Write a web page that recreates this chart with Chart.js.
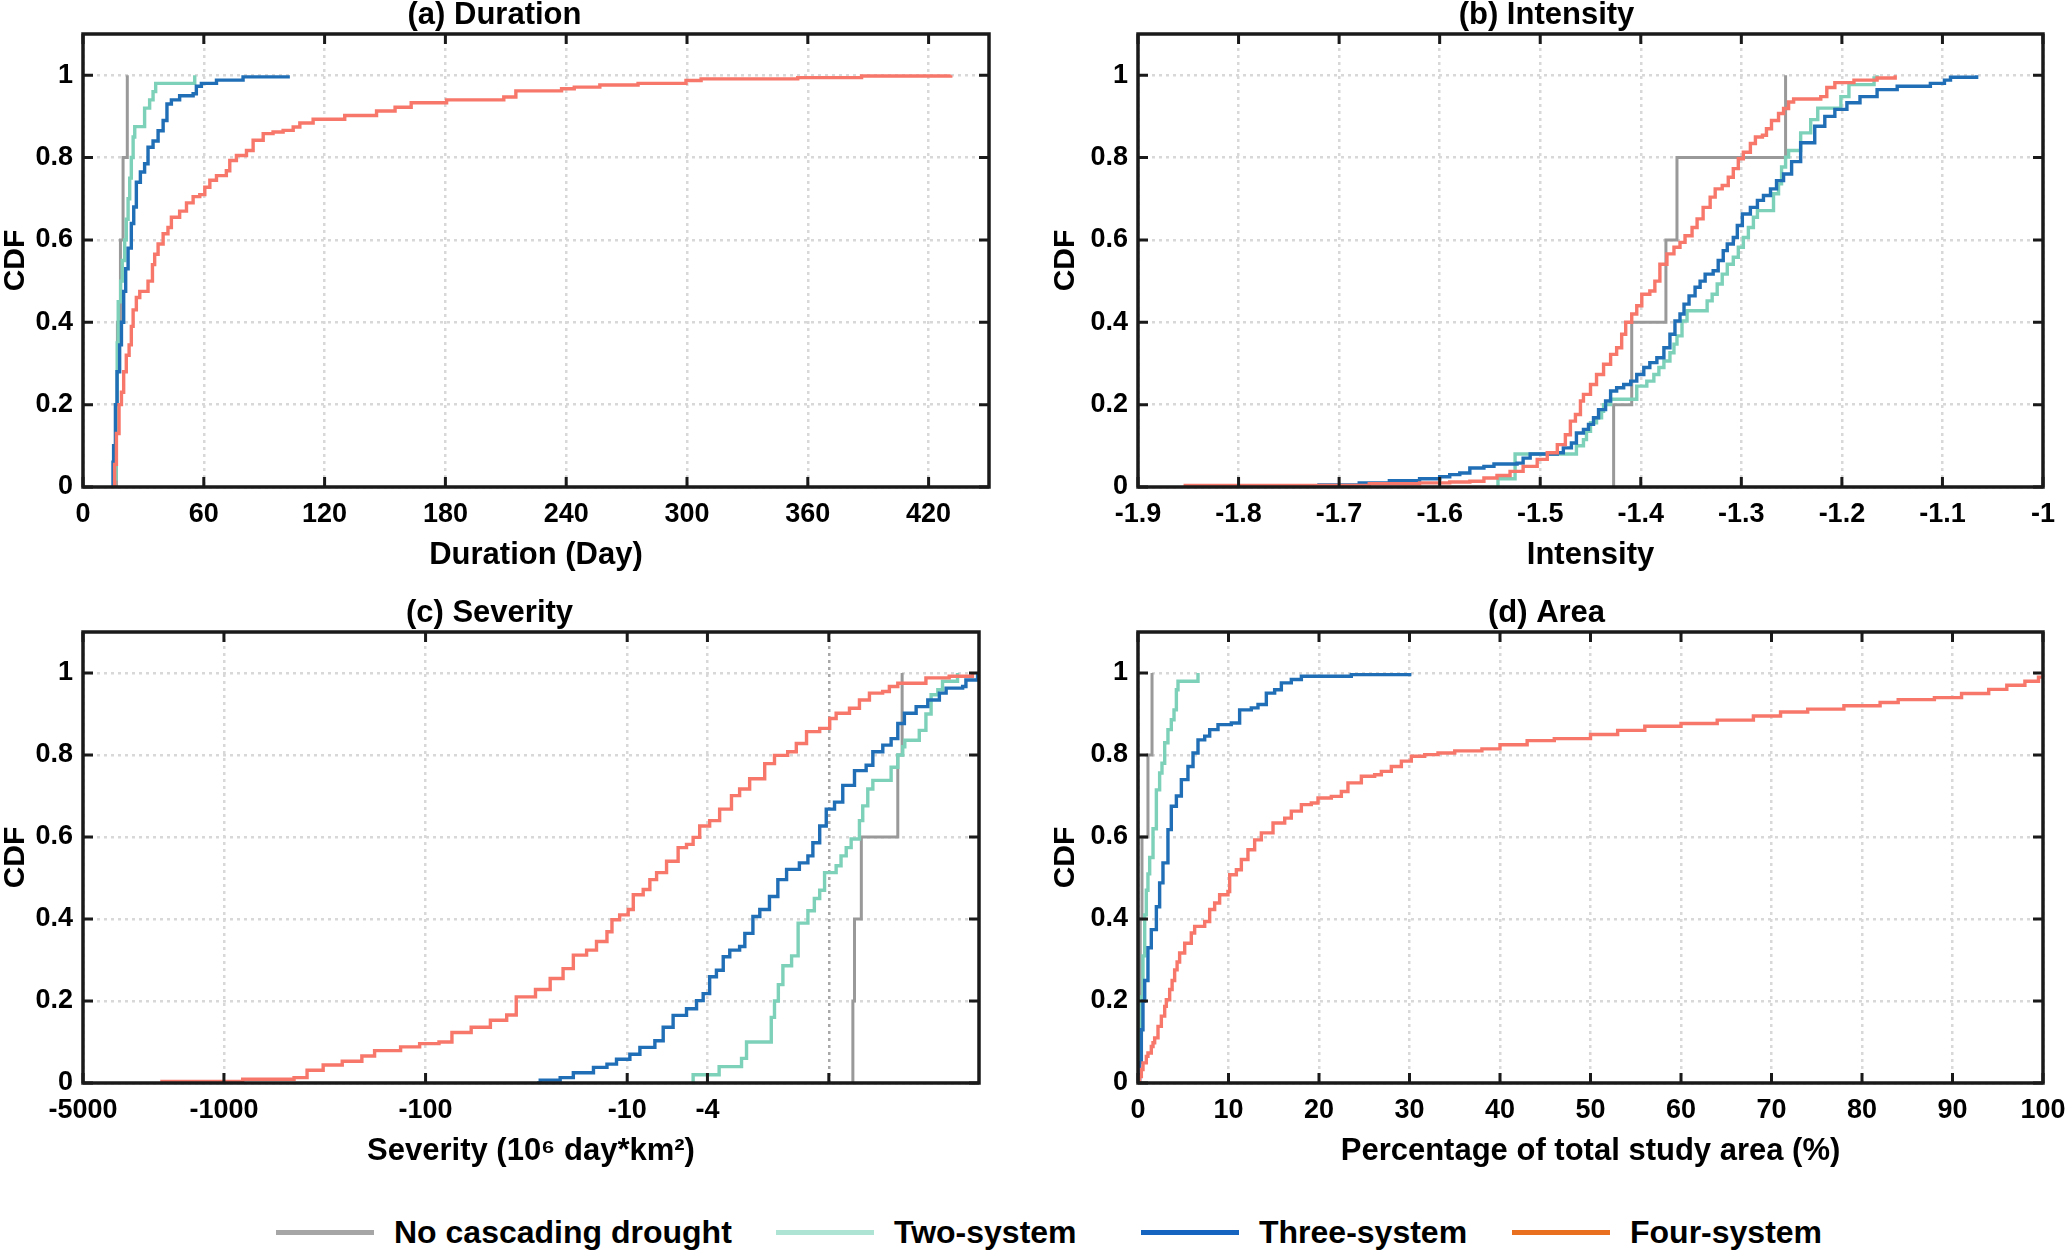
<!DOCTYPE html>
<html>
<head>
<meta charset="utf-8">
<script src="https://cdn.jsdelivr.net/npm/chart.js@4.4.1/dist/chart.umd.min.js"></script>
<style>
  body { margin: 0; background: #fff; width: 2067px; height: 1253px; position: relative; overflow: hidden;
         font-family: "Liberation Sans", Arial, sans-serif; }
  canvas { position: absolute; }
  .leg { position: absolute; top: 1210px; height: 44px; display: flex; align-items: center; }
  .leg span.ln { display: inline-block; width: 98px; height: 5px; margin-right: 20px; }
  .leg span.tx { font-size: 32px; font-weight: bold; color: #000; line-height: 44px; white-space: nowrap; }
</style>
</head>
<body>
<canvas id="chart-a" width="1000" height="580" style="left:0;top:0"></canvas>
<canvas id="chart-b" width="1017" height="580" style="left:1050px;top:0"></canvas>
<canvas id="chart-c" width="1000" height="578" style="left:0;top:598px"></canvas>
<canvas id="chart-d" width="1017" height="578" style="left:1050px;top:598px"></canvas>
<div id="legend"></div>

<script>
// ---- data: [x, CDF] step corners ----
const seriesNames = ["No cascading drought", "Two-system", "Three-system", "Four-system"];
const lineColors = ["#999999", "#7dd1b9", "#1f6eb6", "#f8776b"];
const legendColors = ["#a6a6a6", "#ade4d4", "#1565c0", "#e8701e"];

const cdfTicks = [0, 0.2, 0.4, 0.6, 0.8, 1];
const durTicks = [0, 60, 120, 180, 240, 300, 360, 420];
const intTicks = [-1.9, -1.8, -1.7, -1.6, -1.5, -1.4, -1.3, -1.2, -1.1, -1];
const sevTicks = [5000, 1000, 100, 10, 4, 1];
const areaTicks = [0, 10, 20, 30, 40, 50, 60, 70, 80, 90, 100];

// (a) Duration (day)
const durNone = [[16.6,0],[16.6,0.2],[17.1,0.4],[18.6,0.6],[19.9,0.8],[22,1]];
const durTwo = [[15.7,0],[15.7,0.02],[16.5,0.15],[17,0.35],[17.5,0.45],[18.7,0.5],[19.5,0.55],[20.7,0.6],
  [21.5,0.65],[22.4,0.7],[23.2,0.75],[24,0.8],[24.9,0.85],[25.7,0.875],[30.6,0.92],[33.1,0.94],[34.8,0.96],
  [36.1,0.98],[55.5,1]];
const durThree = [[14.9,0],[14.9,0.06],[15.2,0.1],[16.1,0.2],[16.9,0.28],[18.2,0.345],[19.1,0.4],[20.2,0.475],
  [21.2,0.53],[22.4,0.58],[24,0.64],[25.2,0.68],[26.5,0.74],[28.5,0.765],[30.6,0.785],[32.3,0.825],[34.8,0.84],
  [37.3,0.865],[39.8,0.89],[41.7,0.93],[43.9,0.94],[48,0.95],[54.7,0.955],[56.3,0.973],[58.8,0.98],[66.3,0.988],
  [79.5,0.996],[101.9,1]];
const durFour = [[14.9,0],[15.7,0.055],[16.6,0.13],[17.9,0.2],[19.1,0.23],[20.2,0.28],[21.5,0.32],[22.9,0.345],
  [24,0.39],[24.9,0.43],[26.5,0.46],[28.2,0.475],[32.3,0.5],[34.5,0.54],[35.6,0.565],[37.3,0.59],[39.8,0.615],
  [42.2,0.63],[43.9,0.655],[48,0.67],[51.4,0.69],[54.7,0.705],[58,0.71],[60.5,0.728],[63,0.745],[66.3,0.756],
  [71.2,0.768],[72.9,0.793],[76.2,0.805],[81.2,0.817],[84.5,0.842],[89.5,0.858],[94.4,0.862],[99.4,0.866],
  [104.4,0.874],[107.7,0.884],[114.3,0.893],[130,0.902],[145.8,0.913],[155,0.922],[163,0.933],[180.6,0.94],
  [209,0.947],[215,0.962],[237.7,0.967],[244,0.971],[256.7,0.976],[275.7,0.98],[299.5,0.987],[307,0.991],
  [355,0.994],[386.7,0.998],[431,1]];

// (b) Intensity
const intNone = [[-1.427,0],[-1.427,0.2],[-1.409,0.4],[-1.375,0.6],[-1.364,0.8],[-1.256,1]];
const intTwo = [[-1.542,0],[-1.542,0.02],[-1.525,0.08],[-1.464,0.1],[-1.457,0.115],[-1.454,0.135],[-1.45,0.156],
  [-1.444,0.168],[-1.439,0.184],[-1.437,0.2],[-1.43,0.213],[-1.404,0.245],[-1.394,0.257],[-1.387,0.273],
  [-1.382,0.29],[-1.377,0.306],[-1.371,0.326],[-1.367,0.347],[-1.364,0.367],[-1.359,0.403],[-1.354,0.428],
  [-1.334,0.452],[-1.329,0.468],[-1.324,0.493],[-1.319,0.517],[-1.314,0.541],[-1.308,0.558],[-1.303,0.582],
  [-1.298,0.606],[-1.293,0.63],[-1.288,0.655],[-1.284,0.671],[-1.268,0.712],[-1.263,0.736],[-1.26,0.777],
  [-1.256,0.801],[-1.253,0.817],[-1.241,0.86],[-1.231,0.892],[-1.224,0.92],[-1.201,0.948],[-1.193,0.977],
  [-1.168,0.993],[-1.165,1]];
const intThree = [[-1.72,0],[-1.72,0.005],[-1.68,0.01],[-1.65,0.015],[-1.62,0.02],[-1.6,0.025],[-1.59,0.03],
  [-1.58,0.034],[-1.57,0.046],[-1.556,0.05],[-1.546,0.056],[-1.523,0.058],[-1.517,0.07],[-1.51,0.08],
  [-1.483,0.083],[-1.477,0.095],[-1.469,0.107],[-1.464,0.131],[-1.457,0.14],[-1.452,0.152],[-1.447,0.168],
  [-1.442,0.188],[-1.435,0.209],[-1.43,0.233],[-1.424,0.241],[-1.417,0.249],[-1.41,0.257],[-1.404,0.273],
  [-1.397,0.29],[-1.391,0.302],[-1.384,0.314],[-1.377,0.338],[-1.371,0.371],[-1.366,0.403],[-1.361,0.42],
  [-1.357,0.444],[-1.352,0.464],[-1.346,0.485],[-1.341,0.5],[-1.336,0.517],[-1.328,0.525],[-1.323,0.55],
  [-1.318,0.574],[-1.314,0.59],[-1.308,0.606],[-1.304,0.635],[-1.299,0.663],[-1.291,0.679],[-1.284,0.696],
  [-1.278,0.708],[-1.271,0.724],[-1.265,0.744],[-1.258,0.76],[-1.25,0.79],[-1.241,0.836],[-1.227,0.876],
  [-1.217,0.9],[-1.207,0.917],[-1.195,0.933],[-1.182,0.948],[-1.165,0.965],[-1.145,0.973],[-1.112,0.98],
  [-1.098,0.988],[-1.092,0.995],[-1.066,1]];
const intFour = [[-1.853,0],[-1.853,0.004],[-1.67,0.008],[-1.62,0.01],[-1.59,0.012],[-1.57,0.014],[-1.556,0.022],
  [-1.543,0.028],[-1.53,0.038],[-1.517,0.05],[-1.503,0.067],[-1.493,0.083],[-1.483,0.103],[-1.475,0.127],
  [-1.47,0.16],[-1.465,0.176],[-1.46,0.209],[-1.457,0.225],[-1.45,0.249],[-1.444,0.273],[-1.437,0.298],
  [-1.43,0.322],[-1.424,0.338],[-1.419,0.371],[-1.415,0.4],[-1.409,0.42],[-1.404,0.44],[-1.399,0.468],
  [-1.391,0.476],[-1.386,0.5],[-1.381,0.541],[-1.374,0.566],[-1.367,0.582],[-1.361,0.594],[-1.356,0.61],
  [-1.349,0.63],[-1.344,0.651],[-1.338,0.679],[-1.331,0.704],[-1.326,0.724],[-1.319,0.732],[-1.313,0.752],
  [-1.308,0.773],[-1.303,0.797],[-1.298,0.813],[-1.291,0.834],[-1.286,0.85],[-1.279,0.854],[-1.275,0.87],
  [-1.27,0.89],[-1.263,0.907],[-1.258,0.919],[-1.253,0.935],[-1.248,0.942],[-1.221,0.948],[-1.215,0.97],
  [-1.207,0.982],[-1.188,0.988],[-1.165,0.993],[-1.147,1]];

// (c) Severity (10^6 day*km2), negative values
const sevNone = [[-0.76,0],[-0.76,0.2],[-0.746,0.4],[-0.69,0.6],[-0.455,0.8],[-0.433,1]];
const sevTwo = [[-4.71,0],[-4.71,0.02],[-3.5,0.04],[-2.71,0.06],[-2.56,0.1],[-1.93,0.16],[-1.86,0.2],
  [-1.78,0.24],[-1.69,0.286],[-1.53,0.31],[-1.42,0.39],[-1.27,0.42],[-1.18,0.45],[-1.11,0.47],[-1.05,0.513],
  [-0.92,0.53],[-0.87,0.554],[-0.82,0.574],[-0.775,0.595],[-0.705,0.64],[-0.679,0.676],[-0.641,0.717],
  [-0.605,0.738],[-0.491,0.77],[-0.455,0.8],[-0.43,0.82],[-0.42,0.836],[-0.356,0.86],[-0.33,0.9],
  [-0.311,0.947],[-0.288,0.959],[-0.273,0.98],[-0.23,1]];
const sevThree = [[-28,0],[-27,0.007],[-21.5,0.013],[-18.5,0.025],[-14.7,0.038],[-12.6,0.046],[-11.3,0.058],
  [-9.7,0.07],[-8.65,0.087],[-7.29,0.103],[-6.63,0.136],[-5.92,0.165],[-5.08,0.181],[-4.53,0.201],[-4.2,0.218],
  [-3.9,0.259],[-3.61,0.275],[-3.34,0.308],[-3.1,0.324],[-2.77,0.333],[-2.61,0.365],[-2.38,0.406],[-2.2,0.423],
  [-1.97,0.455],[-1.79,0.496],[-1.62,0.521],[-1.4,0.537],[-1.27,0.554],[-1.2,0.586],[-1.11,0.627],
  [-1.03,0.668],[-0.937,0.685],[-0.853,0.726],[-0.746,0.762],[-0.653,0.775],[-0.605,0.808],[-0.54,0.824],
  [-0.491,0.84],[-0.455,0.877],[-0.422,0.902],[-0.369,0.918],[-0.323,0.934],[-0.283,0.951],[-0.262,0.963],
  [-0.217,0.967],[-0.209,0.983],[-0.183,1]];
const sevFour = [[-2030,0],[-2030,0.004],[-807,0.009],[-449,0.013],[-387,0.031],[-322,0.044],[-259,0.053],
  [-207,0.066],[-179,0.079],[-133,0.088],[-107,0.096],[-85.8,0.1],[-74,0.123],[-59.4,0.136],[-47.7,0.153],
  [-39.6,0.166],[-35.5,0.21],[-28.5,0.228],[-24.1,0.255],[-20.8,0.279],[-18.5,0.312],[-15.9,0.324],
  [-14.2,0.345],[-12.6,0.369],[-11.9,0.398],[-10.9,0.41],[-9.89,0.423],[-9.33,0.459],[-8.33,0.472],
  [-7.72,0.496],[-7.15,0.513],[-6.38,0.541],[-5.59,0.574],[-5.08,0.582],[-4.71,0.599],[-4.37,0.627],
  [-3.9,0.64],[-3.48,0.668],[-3.04,0.701],[-2.77,0.717],[-2.47,0.742],[-2.08,0.779],[-1.86,0.799],
  [-1.6,0.808],[-1.45,0.828],[-1.29,0.857],[-1.11,0.865],[-0.99,0.889],[-0.92,0.902],[-0.79,0.914],
  [-0.705,0.934],[-0.629,0.951],[-0.541,0.955],[-0.501,0.967],[-0.455,0.975],[-0.33,0.988],[-0.253,0.992],
  [-0.194,1]];

// (d) Percentage of total study area (%)
const areaNone = [[0.15,0],[0.15,0.2],[0.25,0.4],[0.44,0.6],[1.1,0.8],[1.55,1]];
const areaTwo = [[0,0],[0.1,0.06],[0.2,0.12],[0.37,0.21],[0.55,0.31],[0.74,0.41],[0.92,0.47],[1.1,0.51],
  [1.29,0.55],[1.66,0.62],[2.03,0.715],[2.39,0.756],[2.65,0.78],[2.95,0.83],[3.31,0.862],[3.68,0.886],
  [3.98,0.91],[4.24,0.959],[4.42,0.98],[6.63,1]];
const areaThree = [[0,0],[0.18,0.05],[0.37,0.13],[0.55,0.2],[0.74,0.25],[1.1,0.33],[1.47,0.374],[2.03,0.43],
  [2.39,0.488],[2.76,0.537],[3.31,0.618],[3.68,0.675],[4.24,0.7],[4.79,0.74],[5.52,0.772],[6.08,0.805],
  [6.63,0.837],[7.37,0.846],[7.92,0.862],[8.84,0.874],[10.31,0.878],[11.23,0.91],[12.52,0.915],[13.26,0.923],
  [14.18,0.951],[15.1,0.959],[15.84,0.976],[16.94,0.984],[18.05,0.992],[23.57,0.996],[30.02,1]];
const areaFour = [[0,0],[0.18,0.016],[0.37,0.033],[0.55,0.049],[0.92,0.065],[1.1,0.073],[1.47,0.089],
  [1.66,0.098],[1.84,0.11],[2.21,0.138],[2.58,0.163],[2.95,0.187],[3.13,0.203],[3.5,0.228],[3.77,0.25],
  [4.05,0.276],[4.32,0.295],[4.6,0.317],[5.16,0.341],[5.89,0.366],[6.26,0.382],[7.37,0.394],[7.92,0.423],
  [8.47,0.439],[9.02,0.459],[9.94,0.467],[10.13,0.508],[10.87,0.52],[11.42,0.545],[12.15,0.569],[12.89,0.593],
  [13.63,0.61],[14.92,0.634],[16.21,0.646],[16.94,0.663],[18.05,0.679],[19.15,0.683],[19.89,0.695],
  [21.36,0.699],[22.47,0.711],[23.2,0.732],[24.68,0.748],[26.15,0.752],[26.89,0.76],[27.99,0.772],[29.1,0.785],
  [30.2,0.797],[31.68,0.801],[33.15,0.805],[35,0.81],[38,0.815],[40,0.825],[43,0.835],[46,0.84],[50,0.85],
  [53,0.86],[56,0.87],[60,0.877],[64,0.885],[68,0.895],[71,0.905],[74,0.912],[78,0.92],[82,0.928],[84,0.935],
  [88,0.94],[91,0.95],[94,0.96],[96,0.97],[98,0.98],[99.5,0.99],[100,1]];

// ---- drawing ----
const FONT = '"Liberation Sans", Arial, sans-serif';

// box around the plot and MATLAB-style inward ticks on all four sides
const framePlugin = {
  id: "frame",
  afterDraw(chart) {
    const { ctx, chartArea: a, scales } = chart;
    ctx.save();
    ctx.strokeStyle = "#1a1a1a";
    ctx.lineWidth = 3;
    ctx.beginPath();
    scales.x.ticks.forEach(t => {
      const px = scales.x.getPixelForValue(t.value);
      ctx.moveTo(px, a.bottom); ctx.lineTo(px, a.bottom - 10);
      ctx.moveTo(px, a.top); ctx.lineTo(px, a.top + 10);
    });
    scales.y.ticks.forEach(t => {
      const py = scales.y.getPixelForValue(t.value);
      ctx.moveTo(a.left, py); ctx.lineTo(a.left + 10, py);
      ctx.moveTo(a.right, py); ctx.lineTo(a.right - 10, py);
    });
    ctx.stroke();
    ctx.lineWidth = 3.5;
    ctx.strokeRect(a.left, a.top, a.right - a.left, a.bottom - a.top);
    ctx.restore();
  }
};

function makeDatasets(series, xMap) {
  // later series drawn on top (lower order = on top)
  return series.map((s, i) => ({
    label: seriesNames[i],
    data: s.map(p => ({ x: xMap ? xMap(p[0]) : p[0], y: p[1] })),
    borderColor: lineColors[i],
    borderWidth: i === 0 ? 3 : 3.4,
    pointRadius: 0,
    stepped: true,
    fill: false,
    order: 3 - i
  }));
}

function makeChart(id, opt) {
  const xScale = Object.assign({
    type: "linear",
    position: "bottom",
    bounds: "data",
    grid: { color: "#d8d8d8", lineWidth: 2.5, drawTicks: false },
    border: { display: false, dash: [3, 4] },
    ticks: { autoSkip: false, maxRotation: 0, padding: 11, color: "#000",
             font: { family: FONT, size: 27, weight: "bold" } },
    title: { display: true, text: opt.xTitle, color: "#000", padding: { top: 0, bottom: 6 },
             font: { family: FONT, size: 31, weight: "bold" } },
    afterFit: s => { s.height = 93; s.paddingLeft = 0; s.paddingRight = 0; }
  }, opt.x);
  xScale.ticks.callback = opt.xLabel;
  xScale.afterBuildTicks = s => { s.ticks = opt.xTicks.map(v => ({ value: v })); };

  return new Chart(document.getElementById(id), {
    type: "line",
    data: { datasets: makeDatasets(opt.series, opt.xMap) },
    options: {
      responsive: false,
      animation: false,
      devicePixelRatio: 1,
      events: [],
      layout: { padding: { left: 0, right: opt.rightPad, top: 0, bottom: 0 } },
      scales: {
        x: xScale,
        y: {
          type: "linear",
          bounds: "data",
          min: 0, max: 1.1,
          grid: { color: "#d8d8d8", lineWidth: 2.5, drawTicks: false },
          border: { display: false, dash: [3, 4] },
          afterBuildTicks: s => { s.ticks = cdfTicks.map(v => ({ value: v })); },
          ticks: { autoSkip: false, padding: 10, color: "#000",
                   font: { family: FONT, size: 27, weight: "bold" },
                   callback: v => String(+v.toFixed(1)) },
          title: { display: true, text: "CDF", color: "#000", padding: { top: 1, bottom: 0 },
                   font: { family: FONT, size: 30, weight: "bold", lineHeight: 1 } },
          afterFit: s => { s.width = opt.yWidth; s.paddingTop = 0; s.paddingBottom = 0; }
        }
      },
      plugins: {
        legend: { display: false },
        tooltip: { enabled: false },
        title: { display: true, text: opt.title, color: "#000", padding: { top: 0, bottom: 3 },
                 font: { family: FONT, size: 31, weight: "bold", lineHeight: 1 } }
      }
    },
    plugins: [framePlugin]
  });
}

makeChart("chart-a", {
  title: "(a) Duration", xTitle: "Duration (Day)",
  series: [durNone, durTwo, durThree, durFour],
  x: { min: 0, max: 450 }, xTicks: durTicks, xLabel: v => String(v),
  yWidth: 83, rightPad: 11
});

makeChart("chart-b", {
  title: "(b) Intensity", xTitle: "Intensity",
  series: [intNone, intTwo, intThree, intFour],
  x: { min: -1.9, max: -1 }, xTicks: intTicks, xLabel: v => String(+v.toFixed(1)),
  yWidth: 88, rightPad: 24
});

makeChart("chart-c", {
  title: "(c) Severity", xTitle: "Severity (10\u2076 day*km\u00B2)",
  series: [sevNone, sevTwo, sevThree, sevFour],
  xMap: v => -v,
  x: { type: "logarithmic", min: 0.18, max: 5000, reverse: true,
       grid: { lineWidth: 2.5, drawTicks: false,
               color: c => (c.tick && c.tick.value === 1 ? "#a8a8a8" : "#d8d8d8") } },
  xTicks: sevTicks, xLabel: v => (v === 1 ? "" : "-" + v),
  yWidth: 83, rightPad: 21
});

makeChart("chart-d", {
  title: "(d) Area", xTitle: "Percentage of total study area (%)",
  series: [areaNone, areaTwo, areaThree, areaFour],
  x: { min: 0, max: 100 }, xTicks: areaTicks, xLabel: v => String(v),
  yWidth: 88, rightPad: 24
});

// shared legend under the four panels
const legendLeft = [276, 776, 1141, 1512];
const legend = document.getElementById("legend");
seriesNames.forEach((name, i) => {
  const item = document.createElement("div");
  item.className = "leg";
  item.style.left = legendLeft[i] + "px";
  item.innerHTML = '<span class="ln" style="background:' + legendColors[i] + '"></span><span class="tx">' + name + "</span>";
  legend.appendChild(item);
});
</script>
</body>
</html>
